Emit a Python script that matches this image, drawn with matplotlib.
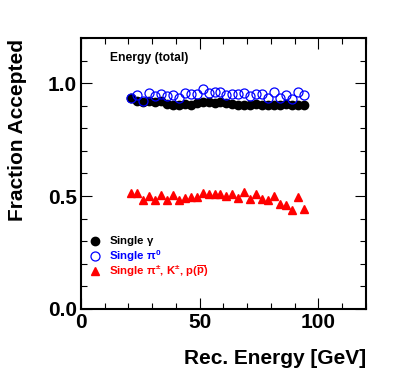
import matplotlib
matplotlib.use('Agg')
import matplotlib.pyplot as plt
from matplotlib.lines import Line2D
from matplotlib.ticker import MultipleLocator, FormatStrFormatter

plt.rcParams['font.family'] = ['Liberation Sans', 'DejaVu Sans']
plt.rcParams['font.weight'] = 'bold'
plt.rcParams['mathtext.fontset'] = 'custom'
plt.rcParams['mathtext.rm'] = 'Liberation Sans:bold'
plt.rcParams['mathtext.it'] = 'Liberation Sans:bold'
plt.rcParams['mathtext.bf'] = 'Liberation Sans:bold'
plt.rcParams['mathtext.default'] = 'rm'

# reconstructed energy bins (GeV)
energy = [21.25, 23.75, 26.25, 28.75, 31.25, 33.75, 36.25, 38.75, 41.25, 43.75,
          46.25, 48.75, 51.25, 53.75, 56.25, 58.75, 61.25, 63.75, 66.25, 68.75,
          71.25, 73.75, 76.25, 78.75, 81.25, 83.75, 86.25, 88.75, 91.25, 93.75]

# fraction accepted per particle type
gamma = [0.933, 0.922, 0.915, 0.920, 0.916, 0.920, 0.906, 0.905, 0.902, 0.906,
         0.905, 0.910, 0.915, 0.916, 0.910, 0.915, 0.912, 0.906, 0.905, 0.905,
         0.902, 0.906, 0.902, 0.905, 0.902, 0.905, 0.906, 0.902, 0.905, 0.903]
pi0 = [0.933, 0.947, 0.921, 0.956, 0.944, 0.951, 0.944, 0.947, 0.932, 0.956,
       0.951, 0.951, 0.973, 0.956, 0.959, 0.962, 0.947, 0.951, 0.951, 0.956,
       0.944, 0.951, 0.951, 0.936, 0.959, 0.936, 0.947, 0.929, 0.959, 0.947]
charged = [0.512, 0.515, 0.484, 0.499, 0.484, 0.503, 0.484, 0.503, 0.484, 0.492,
           0.496, 0.496, 0.515, 0.510, 0.510, 0.507, 0.501, 0.510, 0.492, 0.519,
           0.489, 0.507, 0.489, 0.481, 0.501, 0.465, 0.462, 0.439, 0.495, 0.444]

labels = [r'Single $\gamma$', r'Single $\pi^{0}$',
          r'Single $\pi^{\pm}$, K$^{\pm}$, p($\overline{\mathrm{p}}$)']

fig = plt.figure(figsize=(4.07, 3.87), dpi=100)
ax = fig.add_axes([0.199, 0.2016, 0.700, 0.7004])

# marker styles, shared by plot and legend
styles = [dict(marker='o', color='black', ms=6),
          dict(marker='o', mfc='none', mec='blue', mew=0.9, ms=6.5),
          dict(marker='^', color='red', ms=6)]
colors = ['black', 'blue', 'red']

for ys, st in zip([gamma, pi0, charged], styles):
    ax.plot(energy, ys, ls='none', **st)

ax.set_xlim(0, 120)
ax.set_ylim(0, 1.2)
ax.xaxis.set_major_locator(MultipleLocator(50))
ax.xaxis.set_minor_locator(MultipleLocator(10))
ax.yaxis.set_major_locator(MultipleLocator(0.5))
ax.yaxis.set_minor_locator(MultipleLocator(0.1))
ax.yaxis.set_major_formatter(FormatStrFormatter('%.1f'))
ax.tick_params(which='both', direction='in', top=True, right=True, width=0.8)
ax.tick_params(which='major', length=8, labelsize=15, pad=3)
ax.tick_params(which='minor', length=4)
for s in ax.spines.values():
    s.set_linewidth(1.5)

fig.text(18 / 407, 1 - 39 / 387, 'Fraction Accepted', rotation=90,
         ha='center', va='top', fontsize=15)
fig.text(366 / 407, 1 - 358 / 387, 'Rec. Energy [GeV]',
         ha='right', va='center', fontsize=15)

fig.text(110 / 407, 1 - 58 / 387, 'Energy (total)', ha='left', va='center',
         fontsize=8.7)

# legend drawn by hand, ROOT style
rows = [241, 256, 271]
for lab, st, c, r in zip(labels, styles, colors, rows):
    fy = 1 - r / 387
    fig.lines.append(Line2D([95 / 407], [fy], ls='none',
                            transform=fig.transFigure, **st))
    fig.text(109 / 407, fy, lab, ha='left', va='center', fontsize=8.2, color=c)

fig.savefig('out.png', dpi=100)
